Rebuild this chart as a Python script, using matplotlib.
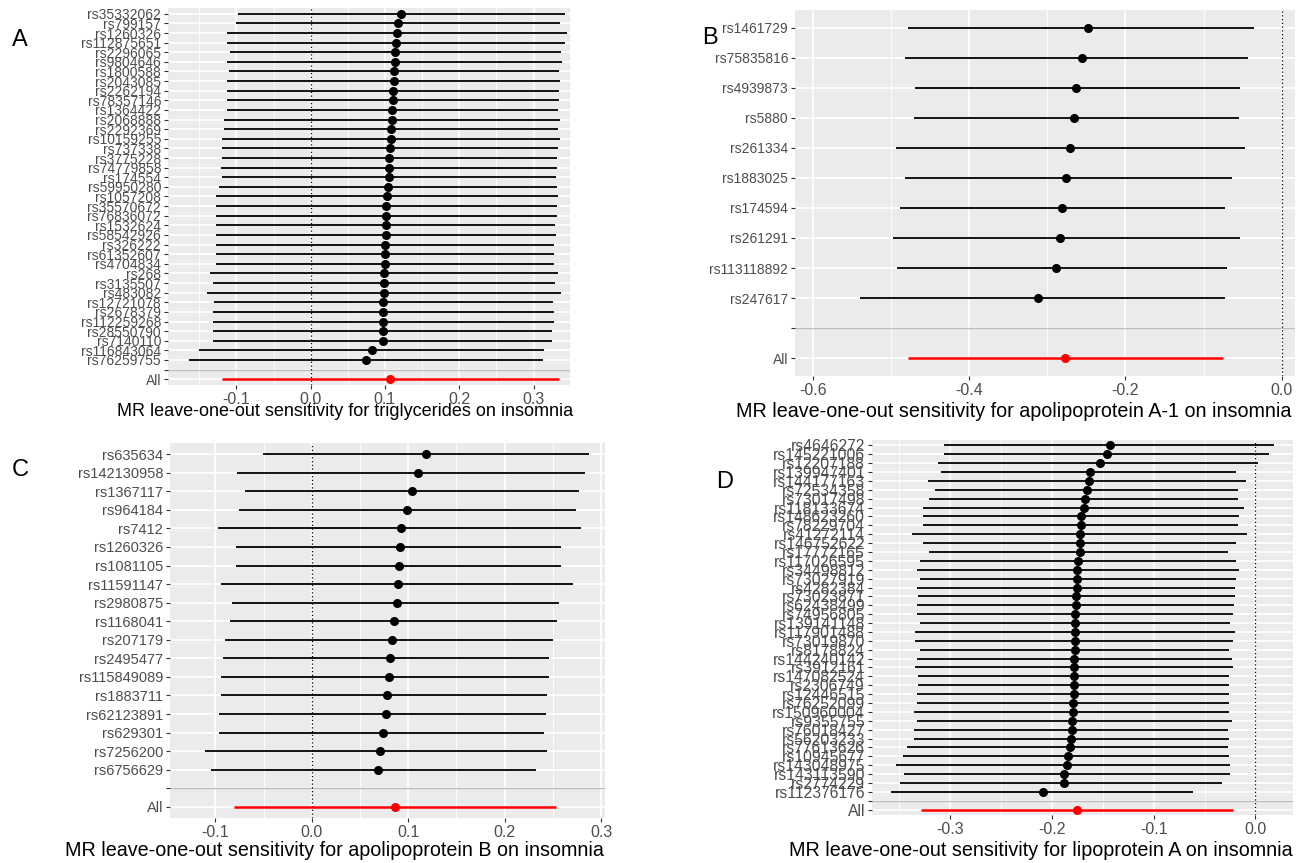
import numpy as np
import matplotlib
matplotlib.use("Agg")
import matplotlib.pyplot as plt

plt.rcParams['font.family'] = ['Liberation Sans', 'DejaVu Sans']
plt.rcParams['axes.unicode_minus'] = False

# ---------------------------------------------------------------- data
# A: triglycerides
snps_a = ["rs35332062", "rs799157", "rs1260326", "rs112875651", "rs2296065", "rs9804646",
          "rs1800588", "rs2043085", "rs2262194", "rs78357146", "rs1364422", "rs2068888",
          "rs2292369", "rs10159255", "rs737338", "rs3775228", "rs74779858", "rs174554",
          "rs59950280", "rs1057208", "rs35570672", "rs76836072", "rs1532624", "rs58542926",
          "rs326222", "rs61352607", "rs4704834", "rs268", "rs3135507", "rs483082",
          "rs12721078", "rs2678379", "rs112259268", "rs28550790", "rs7140110",
          "rs116843064", "rs76259755"]
b_a = [0.122, 0.118, 0.116, 0.115, 0.114, 0.113, 0.112, 0.112, 0.111, 0.111, 0.110, 0.109,
       0.108, 0.108, 0.107, 0.106, 0.105, 0.105, 0.104, 0.103, 0.102, 0.102, 0.101, 0.101,
       0.100, 0.100, 0.100, 0.099, 0.099, 0.099, 0.098, 0.098, 0.098, 0.097, 0.097,
       0.082, 0.074]
lo_a = [-0.098, -0.100, -0.113, -0.112, -0.109, -0.112, -0.110, -0.112, -0.112, -0.112,
        -0.113, -0.117, -0.117, -0.120, -0.119, -0.120, -0.121, -0.120, -0.123, -0.127,
        -0.127, -0.127, -0.127, -0.128, -0.128, -0.128, -0.128, -0.135, -0.131, -0.139,
        -0.130, -0.131, -0.131, -0.131, -0.131, -0.150, -0.164]
hi_a = [0.342, 0.336, 0.345, 0.342, 0.337, 0.338, 0.334, 0.336, 0.334, 0.334, 0.333, 0.335,
        0.333, 0.336, 0.333, 0.332, 0.331, 0.330, 0.331, 0.333, 0.331, 0.331, 0.329, 0.330,
        0.328, 0.328, 0.328, 0.333, 0.329, 0.337, 0.326, 0.327, 0.327, 0.325, 0.325,
        0.314, 0.312]
all_a = (0.107, -0.120, 0.334)

# B: apolipoprotein A-1
snps_b = ["rs1461729", "rs75835816", "rs4939873", "rs5880", "rs261334", "rs1883025",
          "rs174594", "rs261291", "rs113118892", "rs247617"]
b_b = [-0.248, -0.256, -0.263, -0.266, -0.271, -0.276, -0.281, -0.284, -0.289, -0.312]
lo_b = [-0.478, -0.482, -0.469, -0.471, -0.494, -0.482, -0.488, -0.497, -0.492, -0.540]
hi_b = [-0.035, -0.043, -0.054, -0.055, -0.047, -0.064, -0.072, -0.054, -0.070, -0.073]
all_b = (-0.277, -0.478, -0.075)

# C: apolipoprotein B
snps_c = ["rs635634", "rs142130958", "rs1367117", "rs964184", "rs7412", "rs1260326",
          "rs1081105", "rs11591147", "rs2980875", "rs1168041", "rs207179", "rs2495477",
          "rs115849089", "rs1883711", "rs62123891", "rs629301", "rs7256200", "rs6756629"]
b_c = [0.118, 0.110, 0.104, 0.099, 0.093, 0.091, 0.090, 0.089, 0.088, 0.085, 0.083, 0.081,
       0.080, 0.078, 0.077, 0.074, 0.071, 0.069]
lo_c = [-0.051, -0.078, -0.069, -0.075, -0.097, -0.079, -0.079, -0.094, -0.083, -0.085,
        -0.090, -0.092, -0.094, -0.094, -0.096, -0.096, -0.111, -0.104]
hi_c = [0.287, 0.283, 0.277, 0.274, 0.279, 0.258, 0.258, 0.271, 0.256, 0.254, 0.250, 0.246,
        0.246, 0.244, 0.243, 0.241, 0.244, 0.232]
all_c = (0.086, -0.081, 0.253)

# D: lipoprotein A
snps_d = ["rs4646272", "rs145221006", "rs12207188", "rs139947401", "rs144177163",
          "rs72534358", "rs73017498", "rs118133674", "rs148623260", "rs78229704",
          "rs41272114", "rs146752622", "rs17772165", "rs117026595", "rs34498812",
          "rs73027919", "rs4282384", "rs73023871", "rs62438499", "rs74956805",
          "rs139141148", "rs117901488", "rs73019870", "rs8178824", "rs144240142",
          "rs3912161", "rs147082524", "rs2306749", "rs12446515", "rs76252099",
          "rs150960004", "rs9355755", "rs76018427", "rs56203233", "rs77613626",
          "rs10945677", "rs143048975", "rs143113590", "rs2774229", "rs112376176"]
b_d = [-0.143, -0.146, -0.153, -0.163, -0.164, -0.166, -0.168, -0.169, -0.171, -0.171,
       -0.172, -0.172, -0.172, -0.174, -0.175, -0.175, -0.175, -0.176, -0.176, -0.177,
       -0.177, -0.177, -0.177, -0.177, -0.178, -0.178, -0.178, -0.178, -0.178, -0.179,
       -0.179, -0.180, -0.180, -0.181, -0.182, -0.184, -0.185, -0.188, -0.188, -0.209]
lo_d = [-0.306, -0.306, -0.312, -0.309, -0.322, -0.315, -0.321, -0.327, -0.327, -0.327,
        -0.338, -0.327, -0.321, -0.330, -0.333, -0.330, -0.333, -0.332, -0.333, -0.333,
        -0.330, -0.335, -0.335, -0.330, -0.333, -0.335, -0.332, -0.332, -0.333, -0.333,
        -0.336, -0.333, -0.336, -0.336, -0.343, -0.347, -0.353, -0.346, -0.349, -0.358]
hi_d = [0.018, 0.013, 0.003, -0.019, -0.009, -0.017, -0.017, -0.011, -0.016, -0.017,
        -0.008, -0.019, -0.027, -0.019, -0.016, -0.019, -0.020, -0.020, -0.021, -0.022,
        -0.025, -0.020, -0.022, -0.026, -0.023, -0.022, -0.026, -0.026, -0.026, -0.026,
        -0.026, -0.023, -0.027, -0.026, -0.027, -0.026, -0.025, -0.025, -0.033, -0.061]
all_d = (-0.175, -0.329, -0.022)

ticks_a = [-0.1, 0.0, 0.1, 0.2, 0.3]
ticks_b = [-0.6, -0.4, -0.2, 0.0]
ticks_c = [-0.1, 0.0, 0.1, 0.2, 0.3]
ticks_d = [-0.3, -0.2, -0.1, 0.0]

captions = ["MR leave-one-out sensitivity for triglycerides on insomnia",
            "MR leave-one-out sensitivity for apolipoprotein A-1 on insomnia",
            "MR leave-one-out sensitivity for apolipoprotein B on insomnia",
            "MR leave-one-out sensitivity for lipoprotein A on insomnia"]
letters = ["A", "B", "C", "D"]

GREY_BG = "#EBEBEB"
GREY_TXT = "#4D4D4D"


def forest(ax, snps, b, lo, hi, allv, ticks, xlim, fs):
    n = len(snps)
    # rows: All at 1, blank at 2, SNPs from n+2 (top) down to 3
    ys = np.arange(n + 2, 2, -1)
    ax.set_facecolor(GREY_BG)
    for s in ax.spines.values():
        s.set_visible(False)

    ax.set_xlim(*xlim)
    ax.set_ylim(0.4, n + 2.6)

    step = ticks[1] - ticks[0]
    minor = [t + step / 2 for t in [ticks[0] - step] + ticks]
    for t in minor:
        ax.axvline(t, color="white", lw=0.6, zorder=0)
    for t in ticks:
        ax.axvline(t, color="white", lw=1.2, zorder=0)
    for y in list(ys) + [1, 2]:
        ax.axhline(y, color="white", lw=1.2, zorder=0)

    ax.axhline(2, color="#BEBEBE", lw=1.0, zorder=1)
    ax.axvline(0, color="black", lw=0.9, ls=(0, (1, 2)), zorder=1)

    ax.hlines(ys, lo, hi, color="black", lw=1.3, zorder=2)
    ax.plot(b, ys, "o", color="black", ms=5.5, zorder=3)
    ax.hlines(1, allv[1], allv[2], color="red", lw=1.8, zorder=2)
    ax.plot(allv[0], 1, "o", color="red", ms=5.5, zorder=3)

    ax.set_xticks(ticks)
    ax.set_xticklabels([f"{t:.1f}" for t in ticks])
    ax.set_yticks(list(ys) + [2, 1])
    ax.set_yticklabels(list(snps) + ["", "All"])
    ax.tick_params(axis="both", colors="#333333", labelcolor=GREY_TXT, length=3,
                   width=0.8, pad=2)
    ax.tick_params(axis="y", labelsize=fs)
    ax.tick_params(axis="x", labelsize=11.5)


fig = plt.figure(figsize=(13.08, 8.63), dpi=100)
W, H = 1308, 863


def add_axes(x0, x1, y0, y1):
    return fig.add_axes([x0 / W, 1 - y1 / H, (x1 - x0) / W, (y1 - y0) / H])


ax_a = add_axes(168, 570, 8, 385)
ax_b = add_axes(795, 1295, 10, 376)
ax_c = add_axes(170, 605, 443, 818)
ax_d = add_axes(872, 1293, 440, 815)

forest(ax_a, snps_a, b_a, lo_a, hi_a, all_a, ticks_a, (-0.192, 0.349), 10)
forest(ax_b, snps_b, b_b, lo_b, hi_b, all_b, ticks_b, (-0.623, 0.017), 10)
forest(ax_c, snps_c, b_c, lo_c, hi_c, all_c, ticks_c, (-0.147, 0.304), 10.5)
forest(ax_d, snps_d, b_d, lo_d, hi_d, all_d, ticks_d, (-0.377, 0.037), 11.3)

cap_pos = [(345, 411), (1014, 411), (334, 850), (1041, 850)]
cap_size = [13, 14.2, 14.2, 14.2]
for (cx, cy), txt, fsz in zip(cap_pos, captions, cap_size):
    fig.text(cx / W, 1 - cy / H, txt, ha="center", va="center", fontsize=fsz, color="black")

let_pos = [(12, 40), (702, 38), (12, 470), (716, 482)]
for (lx, ly), t in zip(let_pos, letters):
    fig.text(lx / W, 1 - ly / H, t, ha="left", va="center", fontsize=17, color="black")

fig.savefig("out.png", dpi=100)
